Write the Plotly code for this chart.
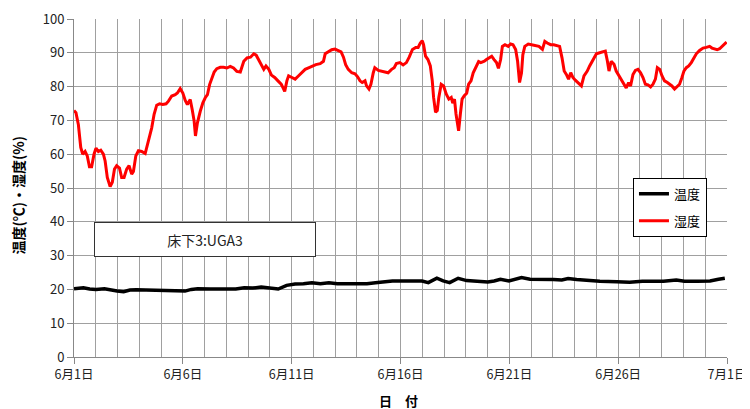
import plotly.graph_objects as go

# ---- data ----
# x = days elapsed since 6/1 00:00
hum_day = [0.00,0.09,0.20,0.31,0.40,0.51,0.61,0.71,0.81,0.92,1.01,1.12,1.23,1.35,1.43,1.53,1.66,1.76,1.86,1.96,
           2.09,2.19,2.30,2.42,2.53,2.65,2.73,2.84,2.96,3.11,3.27,3.37,3.47,3.57,3.68,3.80,3.93,4.08,4.23,4.34,
           4.49,4.65,4.75,4.88,5.00,5.11,5.21,5.34,5.43,5.52,5.58,5.67,5.80,5.92,6.03,6.13,6.23,6.33,6.44,6.56,
           6.72,6.87,7.02,7.18,7.33,7.48,7.64,7.80,7.95,8.11,8.26,8.37,8.49,8.61,8.72,8.82,8.95,9.07,9.22,9.37,
           9.52,9.60,9.68,9.78,9.86,10.01,10.16,10.32,10.47,10.62,10.80,10.96,11.11,11.31,11.46,11.54,11.69,11.84,11.99,12.15,
           12.27,12.38,12.48,12.60,12.76,12.91,13.03,13.14,13.24,13.37,13.44,13.55,13.64,13.75,13.82,13.98,14.13,14.28,14.43,14.59,
           14.71,14.81,14.97,15.12,15.27,15.40,15.55,15.70,15.81,15.91,16.00,16.06,16.15,16.26,16.37,16.46,16.52,16.61,16.69,16.76,
           16.87,16.98,17.10,17.22,17.33,17.40,17.48,17.55,17.63,17.67,17.75,17.83,17.93,18.04,18.13,18.24,18.34,18.47,18.59,18.69,
           18.85,18.95,19.07,19.19,19.30,19.41,19.50,19.60,19.68,19.80,19.95,20.06,20.17,20.29,20.38,20.47,20.56,20.62,20.71,20.87,
           21.02,21.20,21.36,21.52,21.63,21.74,21.90,22.04,22.20,22.31,22.42,22.52,22.62,22.72,22.82,22.92,23.03,23.15,23.31,23.43,
           23.58,23.69,23.84,24.00,24.15,24.30,24.41,24.50,24.58,24.68,24.81,24.91,25.04,25.14,25.27,25.37,25.48,25.57,25.68,25.79,
           25.91,26.03,26.14,26.25,26.37,26.49,26.60,26.71,26.80,26.91,27.01,27.13,27.26,27.36,27.47,27.59,27.72,27.82,27.93,28.02,
           28.13,28.24,28.36,28.48,28.59,28.74,28.90,29.05,29.20,29.31,29.43,29.55,29.66,29.77,29.89,29.98]
hum_val = [72.9,72.3,68.8,62.0,60.0,60.8,59.5,56.3,56.3,60.0,61.8,60.8,61.2,60.0,58.0,53.1,50.4,51.7,55.6,56.6,
           55.9,53.1,53.1,55.6,56.6,54.1,54.9,59.5,61.0,60.8,60.2,62.9,65.9,67.8,71.8,74.5,74.9,74.7,74.9,75.7,
           77.2,77.6,78.1,79.4,78.1,75.9,74.7,76.2,73.2,69.8,65.4,69.3,72.7,75.2,76.7,77.6,80.6,82.5,84.3,85.3,
           85.7,85.7,85.5,86.0,85.5,84.5,84.3,87.5,88.5,88.7,89.7,89.3,88.0,86.5,85.1,86.1,85.1,83.4,82.7,81.7,
           80.7,79.7,78.6,81.7,83.2,82.7,82.2,83.2,84.1,85.1,85.6,86.1,86.5,86.8,87.5,89.7,90.3,90.9,91.1,90.7,
           90.3,88.7,86.5,85.1,84.1,83.8,82.9,81.7,81.2,81.7,80.2,79.3,80.7,84.1,85.6,84.8,84.6,84.4,84.1,85.1,
           85.6,86.8,87.1,86.4,87.1,88.7,91.0,91.6,91.6,92.9,93.6,92.4,89.0,88.0,86.1,81.7,76.8,72.4,72.9,76.8,
           80.7,80.2,77.8,76.3,76.8,75.1,76.3,71.9,68.0,66.9,71.9,76.3,77.3,78.0,80.7,81.7,84.1,86.1,87.4,87.1,
           87.5,88.0,88.5,89.0,88.0,87.1,85.4,88.0,91.9,92.4,91.9,92.6,92.4,91.0,87.5,81.2,84.1,89.4,91.9,92.6,
           92.4,92.2,91.9,91.0,93.4,92.9,92.4,92.4,92.2,91.9,88.5,84.6,83.6,82.2,84.1,82.7,81.9,81.2,80.2,83.2,
           84.6,86.1,87.7,89.7,90.0,90.3,90.5,87.7,84.6,87.5,86.6,84.6,83.2,82.2,80.7,79.6,81.2,80.2,83.6,84.8,
           85.1,84.1,82.7,80.7,80.5,79.9,80.7,82.2,85.6,85.1,83.2,81.7,81.2,80.7,80.2,79.3,80.2,80.7,82.7,84.6,
           85.6,86.1,87.1,88.5,89.7,90.7,91.4,91.6,91.9,91.4,91.2,90.9,91.2,91.9,92.6,93.2]

temp_day = [0.00,0.43,0.72,1.01,1.40,1.69,1.98,2.28,2.57,2.86,3.25,3.74,4.12,4.61,5.10,5.39,5.68,6.26,6.85,7.43,
            7.82,8.21,8.60,8.99,9.38,9.77,10.16,10.54,10.93,11.32,11.71,12.10,12.49,13.07,13.46,13.85,14.24,14.63,15.41,15.99,
            16.28,16.67,16.96,17.26,17.65,18.04,18.52,19.01,19.30,19.59,19.98,20.27,20.56,20.95,21.25,21.54,22.02,22.41,22.70,23.09,
            23.58,24.16,24.94,25.53,26.11,26.69,27.08,27.67,28.05,28.64,29.22,29.61,29.90]
temp_val = [20.2,20.5,20.1,20.0,20.2,19.8,19.5,19.3,19.8,19.9,19.8,19.8,19.5,19.4,19.5,20.0,20.2,20.1,20.1,20.1,
            20.5,20.4,20.7,20.5,20.1,21.2,21.6,21.7,22.0,21.7,22.0,21.7,21.7,21.5,21.7,22.0,22.2,22.5,22.5,22.5,
            22.0,23.3,22.5,22.0,23.3,22.6,22.4,22.2,22.5,23.0,22.5,22.9,23.5,23.0,22.9,23.0,22.9,22.8,23.2,22.9,
            22.6,22.4,22.3,22.1,22.4,22.5,22.4,22.8,22.4,22.4,22.5,23.0,23.3]

tick_days = [0, 5, 10, 15, 20, 25, 30]
tick_labels = ["6月1日", "6月6日", "6月11日", "6月16日", "6月21日", "6月26日", "7月1日"]
series_names = ["温度", "湿度"]

FONT = "Noto Sans CJK JP"
GRID = "#a0a0a0"

fig = go.Figure()
fig.add_trace(go.Scatter(x=temp_day, y=temp_val, mode="lines", name=series_names[0],
                         legendgroup="a", line=dict(color="#000000", width=3.5)))
fig.add_trace(go.Scatter(x=hum_day, y=hum_val, mode="lines", name=series_names[1],
                         legendgroup="b", line=dict(color="#ff0000", width=3)))

# the page body adds an 8px offset, margins compensate for it
fig.update_layout(
    width=750, height=409,
    margin=dict(l=66, r=31, t=11, b=60),
    paper_bgcolor="white", plot_bgcolor="white",
    font=dict(family=FONT, size=13, color="#222222"),
    showlegend=True,
    legend=dict(x=0.856, y=0.53, xanchor="left", yanchor="top",
                bgcolor="white", bordercolor="#000000", borderwidth=1,
                font=dict(size=13, color="#000000"), tracegroupgap=7,
                itemwidth=30),
    xaxis=dict(range=[0, 30], tickmode="array", tickvals=tick_days, ticktext=tick_labels,
               automargin=False,
               showgrid=True, gridcolor=GRID, gridwidth=1,
               showline=True, linecolor="#888888", linewidth=1,
               ticks="outside", ticklen=6, tickcolor="#888888",
               minor=dict(tickmode="linear", tick0=0, dtick=1, showgrid=True,
                          gridcolor=GRID, gridwidth=1),
               zeroline=False, tickfont=dict(size=12.5, color="#222222")),
    yaxis=dict(range=[0, 100], dtick=10, automargin=False,
               showgrid=True, gridcolor=GRID, gridwidth=1,
               showline=True, linecolor="#888888", linewidth=1,
               ticks="outside", ticklen=6, tickcolor="#888888",
               zeroline=False, tickfont=dict(size=13, color="#222222")),
)

fig.add_annotation(xref="paper", yref="paper", x=-0.086, y=0.48, text="<b>温度(℃)・湿度(%)</b>",
                   textangle=-90, showarrow=False, xanchor="center", yanchor="middle",
                   font=dict(size=14, color="#000000", family=FONT))
fig.add_annotation(xref="paper", yref="paper", x=0.497, y=-0.128, text="<b>日　付</b>",
                   showarrow=False, xanchor="center", yanchor="middle",
                   font=dict(size=13, color="#000000", family=FONT))
fig.add_annotation(xref="paper", yref="paper", x=0.2006, y=0.349, text="床下3:UGA3",
                   showarrow=False, xanchor="center", yanchor="middle",
                   width=218, height=31, bgcolor="white", bordercolor="#333333", borderwidth=1,
                   font=dict(size=14, color="#222222", family=FONT))

fig.write_html("out.html")
